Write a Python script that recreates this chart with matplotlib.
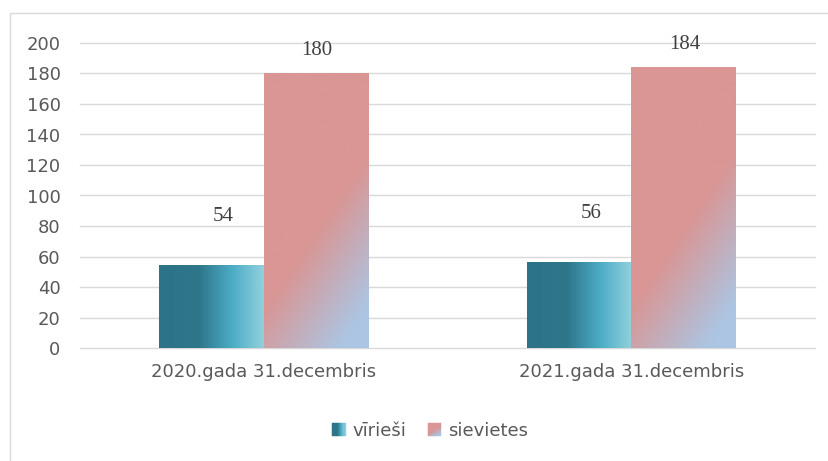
import matplotlib.pyplot as plt
import numpy as np
from matplotlib.colors import LinearSegmentedColormap
from matplotlib.legend_handler import HandlerBase
from matplotlib.patches import Rectangle

# dati
categories = ["2020.gada 31.decembris", "2021.gada 31.decembris"]
series_names = ["vīrieši", "sievietes"]
virieshi = [54, 56]
sievietes = [180, 184]

teal_cmap = LinearSegmentedColormap.from_list(
    "teal", [(0, "#2D7387"), (0.38, "#2E768A"), (0.7, "#4BACC6"), (1, "#90D0DD")])
pink_cmap = LinearSegmentedColormap.from_list("pink", ["#D99694", "#ACC5E3"])


def teal_grid(n=64):
    u = np.linspace(0, 1, n)
    return np.tile(u, (n, 1))


def pink_grid(n=64):
    u, v = np.meshgrid(np.linspace(0, 1, n), np.linspace(0, 1, n))
    s = 0.5625 * u + v
    return np.clip((s - 0.8625) / 0.55, 0, 1)


class GradientHandler(HandlerBase):
    def __init__(self, cmap, grid_fn):
        super().__init__()
        self.cmap = cmap
        self.grid_fn = grid_fn

    def create_artists(self, legend, orig_handle, xdescent, ydescent,
                       width, height, fontsize, trans):
        n = 12
        g = self.grid_fn(n)
        cw, ch = width / n, height / n
        out = []
        for i in range(n):
            for j in range(n):
                c = self.cmap(g[i, j])
                out.append(Rectangle((-xdescent + j * cw, -ydescent + height - (i + 1) * ch),
                                     cw, ch, facecolor=c, edgecolor=c, lw=0.3,
                                     transform=trans))
        return out


fig = plt.figure(figsize=(8.29, 4.61), dpi=100)
ax = fig.add_axes([80 / 829, 1 - 348 / 461, (815 - 80) / 829, (348 - 43) / 461])

x = np.arange(len(categories))
w = 0.285

bars1 = ax.bar(x - w / 2, virieshi, w, color="none", zorder=2)
bars2 = ax.bar(x + w / 2, sievietes, w, color="none", zorder=2)

for bars, cmap, fn in [(bars1, teal_cmap, teal_grid), (bars2, pink_cmap, pink_grid)]:
    for b in bars:
        ax.imshow(fn(), cmap=cmap, vmin=0, vmax=1, aspect="auto", zorder=2,
                  interpolation="bilinear",
                  extent=[b.get_x(), b.get_x() + b.get_width(),
                          b.get_y(), b.get_y() + b.get_height()])

# datu etiķetes
for bars, vals, off in [(bars1, virieshi, (12, 49)), (bars2, sievietes, (1, 23))]:
    for b, v in zip(bars, vals):
        ax.annotate(str(v), (b.get_x() + b.get_width() / 2, v), xytext=off,
                    textcoords="offset pixels", ha="center", va="center",
                    fontsize=15, family="Liberation Serif", color="#404040")

ax.set_xlim(-0.5, 1.5)
ax.set_ylim(0, 200)
ax.set_yticks(np.arange(0, 201, 20))
ax.set_xticks(x)
ax.set_xticklabels(categories)
ax.grid(axis="y", color="#D9D9D9", lw=1.0, zorder=0)
for gl in ax.get_ygridlines():
    gl.set_clip_on(False)
ax.set_axisbelow(True)
for s in ax.spines.values():
    s.set_visible(False)
ax.tick_params(axis="y", length=0, pad=14, labelsize=13, labelcolor="#595959")
ax.tick_params(axis="x", length=0, pad=11, labelsize=13, labelcolor="#595959")

h1 = Rectangle((0, 0), 1, 1)
h2 = Rectangle((0, 0), 1, 1)
fig.legend([h1, h2], series_names, loc="center", bbox_to_anchor=(0.519, 0.066),
           ncol=2, frameon=False, fontsize=13, labelcolor="#595959",
           handlelength=0.75, handleheight=0.78, handletextpad=0.4, columnspacing=1.15,
           handler_map={h1: GradientHandler(teal_cmap, teal_grid),
                        h2: GradientHandler(pink_cmap, pink_grid)})

# rāmis
fig.add_artist(Rectangle((10 / 829, -0.1), 1.2, 1 - 13 / 461 + 0.1, transform=fig.transFigure,
                         fill=False, edgecolor="#D9D9D9", lw=1.0))

fig.savefig("out.png", dpi=100)
